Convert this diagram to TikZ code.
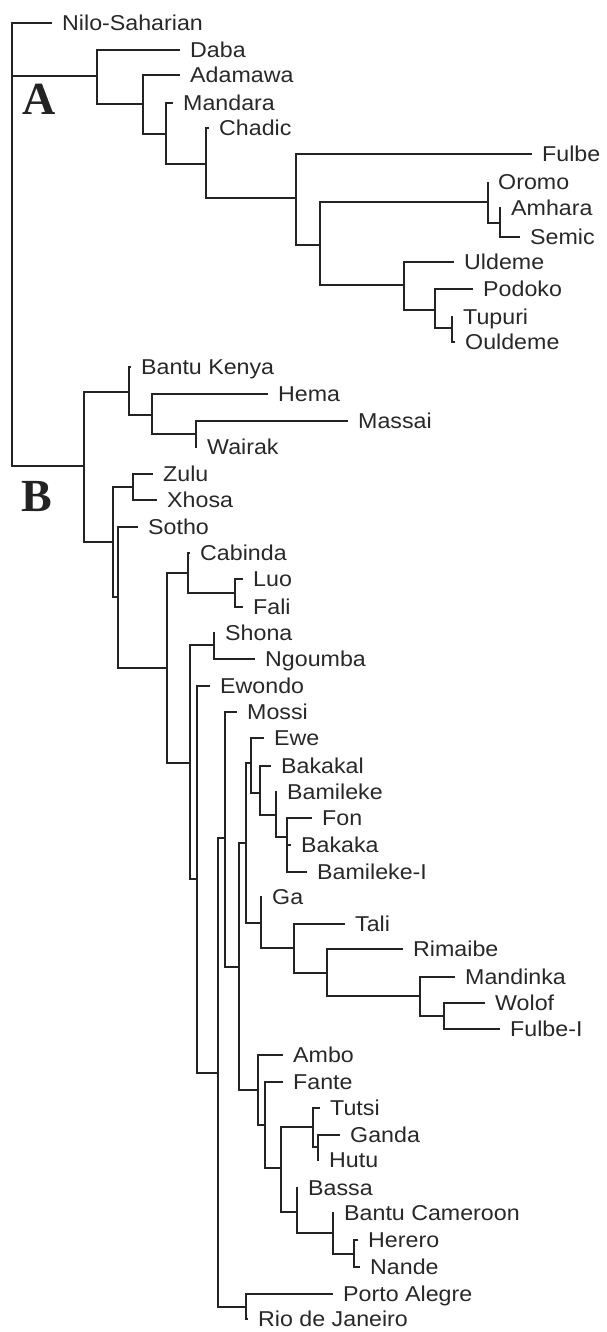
\documentclass[tikz,border=0pt]{standalone}
\usepackage{fontspec}
\setmainfont{Liberation Sans}[FakeStretch=1.08]
\newfontfamily\cladefont{Liberation Serif}
\definecolor{treegrey}{RGB}{35,35,35}
\definecolor{labelgrey}{RGB}{40,40,40}
\tikzset{
  branch/.style={treegrey, line width=1.6pt},
  leaf/.style={anchor=west, inner xsep=10pt, inner ysep=0pt, text height=15.4pt, text depth=0pt,
    labelgrey, font=\fontsize{21.5}{24}\selectfont},
  clade/.style={treegrey, font=\cladefont\bfseries\fontsize{46}{46}\selectfont},
}
\begin{document}
\begin{tikzpicture}[x=1pt, y=-1pt]
    \useasboundingbox (0,0) rectangle (607,1332);
    % Inner nodes of the tree
    \foreach \n/\x/\y in {root/12/76,
      cA/97/76, cAa/143/104, cAb/166/134, cAc/206/164, cAd/296/198, cAe/320/245,
      cAf/488/202, cAg/500/223, cAh/404/285, cAi/435/310, cAj/452/328,
      cB/84/466, cBa/129/392, cBb/152/415, cBc/196/434, cBd/113/542, cBe/133/487,
      cBf/118/597, cBg/167/668, cBh/188/573, cBi/235/593, cBj/190/763, cBk/214/645,
      cBl/197/879, cBm/218/1073, cBn/225/838, cBo/239/967, cBp/246/843, cBq/251/763,
      cBr/260/793, cBs/276/815, cBt/287/837, cBu/261/923, cBv/294/948, cBw/327/973,
      cBx/420/996, cBy/444/1016, cBz/258/1090, cCa/265/1125, cCb/281/1168,
      cCc/313/1127, cCd/318/1147, cCe/297/1212, cCf/333/1233, cCg/354/1254,
      cCh/246/1307}
      \coordinate (\n) at (\x,\y);
    % Leaves: end of branch and label
    \foreach \n/\x/\y/\t in {nilo/52/23/Nilo-Saharian,
      daba/180/50/Daba, adamawa/180/75/Adamawa, mandara/173/103/Mandara,
      chadic/209/128/Chadic, fulbe/532/154/Fulbe, oromo/488/182/Oromo,
      amhara/501/208/Amhara, semic/520/237/Semic, uldeme/454/262/Uldeme,
      podoko/473/289/Podoko, tupuri/453/317/Tupuri, ouldeme/455/342/Ouldeme,
      bkenya/131/367/{Bantu Kenya}, hema/268/394/Hema, massai/348/421/Massai,
      wairak/197/447/Wairak, zulu/153/474/Zulu, xhosa/157/500/Xhosa,
      sotho/138/527/Sotho, cabinda/190/553/Cabinda, luo/243/579/Luo,
      fali/243/607/Fali, shona/215/633/Shona, ngoumba/255/659/Ngoumba,
      ewondo/210/686/Ewondo, mossi/237/712/Mossi, ewe/264/738/Ewe,
      bakakal/271/766/Bakakal, bamileke/277/792/Bamileke, fon/312/818/Fon,
      bakaka/291/845/Bakaka, bamilekeI/307/872/Bamileke-I, ga/262/897/Ga,
      tali/345/924/Tali, rimaibe/403/949/Rimaibe, mandinka/455/977/Mandinka,
      wolof/485/1003/Wolof, fulbeI/500/1029/Fulbe-I, ambo/283/1055/Ambo,
      fante/283/1082/Fante, tutsi/320/1108/Tutsi, ganda/340/1135/Ganda,
      hutu/319/1160/Hutu, bassa/298/1188/Bassa, bcameroon/334/1213/{Bantu Cameroon},
      herero/358/1240/Herero, nande/360/1267/Nande, palegre/333/1294/{Porto Alegre},
      rio/248/1319/{Rio de Janeiro}}
      \node[leaf] (\n) at (\x,\y) {\t};
    % Branches
    \foreach \p/\c in {root/nilo, root/cA, root/cB,
      cA/daba, cA/cAa, cAa/adamawa, cAa/cAb, cAb/mandara, cAb/cAc, cAc/chadic, cAc/cAd,
      cAd/fulbe, cAd/cAe, cAe/cAf, cAe/cAh, cAf/oromo, cAf/cAg, cAg/amhara, cAg/semic,
      cAh/uldeme, cAh/cAi, cAi/podoko, cAi/cAj, cAj/tupuri, cAj/ouldeme,
      cB/cBa, cB/cBd, cBa/bkenya, cBa/cBb, cBb/hema, cBb/cBc, cBc/massai, cBc/wairak,
      cBd/cBe, cBd/cBf, cBe/zulu, cBe/xhosa, cBf/sotho, cBf/cBg, cBg/cBh, cBg/cBj,
      cBh/cabinda, cBh/cBi, cBi/luo, cBi/fali, cBj/cBk, cBj/cBl, cBk/shona, cBk/ngoumba,
      cBl/ewondo, cBl/cBm, cBm/cBn, cBm/cCh, cBn/mossi, cBn/cBo, cBo/cBp, cBo/cBz,
      cBp/cBq, cBp/cBu, cBq/ewe, cBq/cBr, cBr/bakakal, cBr/cBs, cBs/bamileke, cBs/cBt,
      cBt/fon, cBt/bakaka, cBt/bamilekeI, cBu/ga, cBu/cBv, cBv/tali, cBv/cBw,
      cBw/rimaibe, cBw/cBx, cBx/mandinka, cBx/cBy, cBy/wolof, cBy/fulbeI,
      cBz/ambo, cBz/cCa, cCa/fante, cCa/cCb, cCb/cCc, cCb/cCe, cCc/tutsi, cCc/cCd,
      cCd/ganda, cCd/hutu, cCe/bassa, cCe/cCf, cCf/bcameroon, cCf/cCg,
      cCg/herero, cCg/nande, cCh/palegre, cCh/rio}
      \draw[branch] (\p) |- (\c);
    % Clade letters
    \node[clade] (labA) at (39,99) {A};
    \node[clade] (labB) at (37,497) {B};
\end{tikzpicture}
\end{document}
